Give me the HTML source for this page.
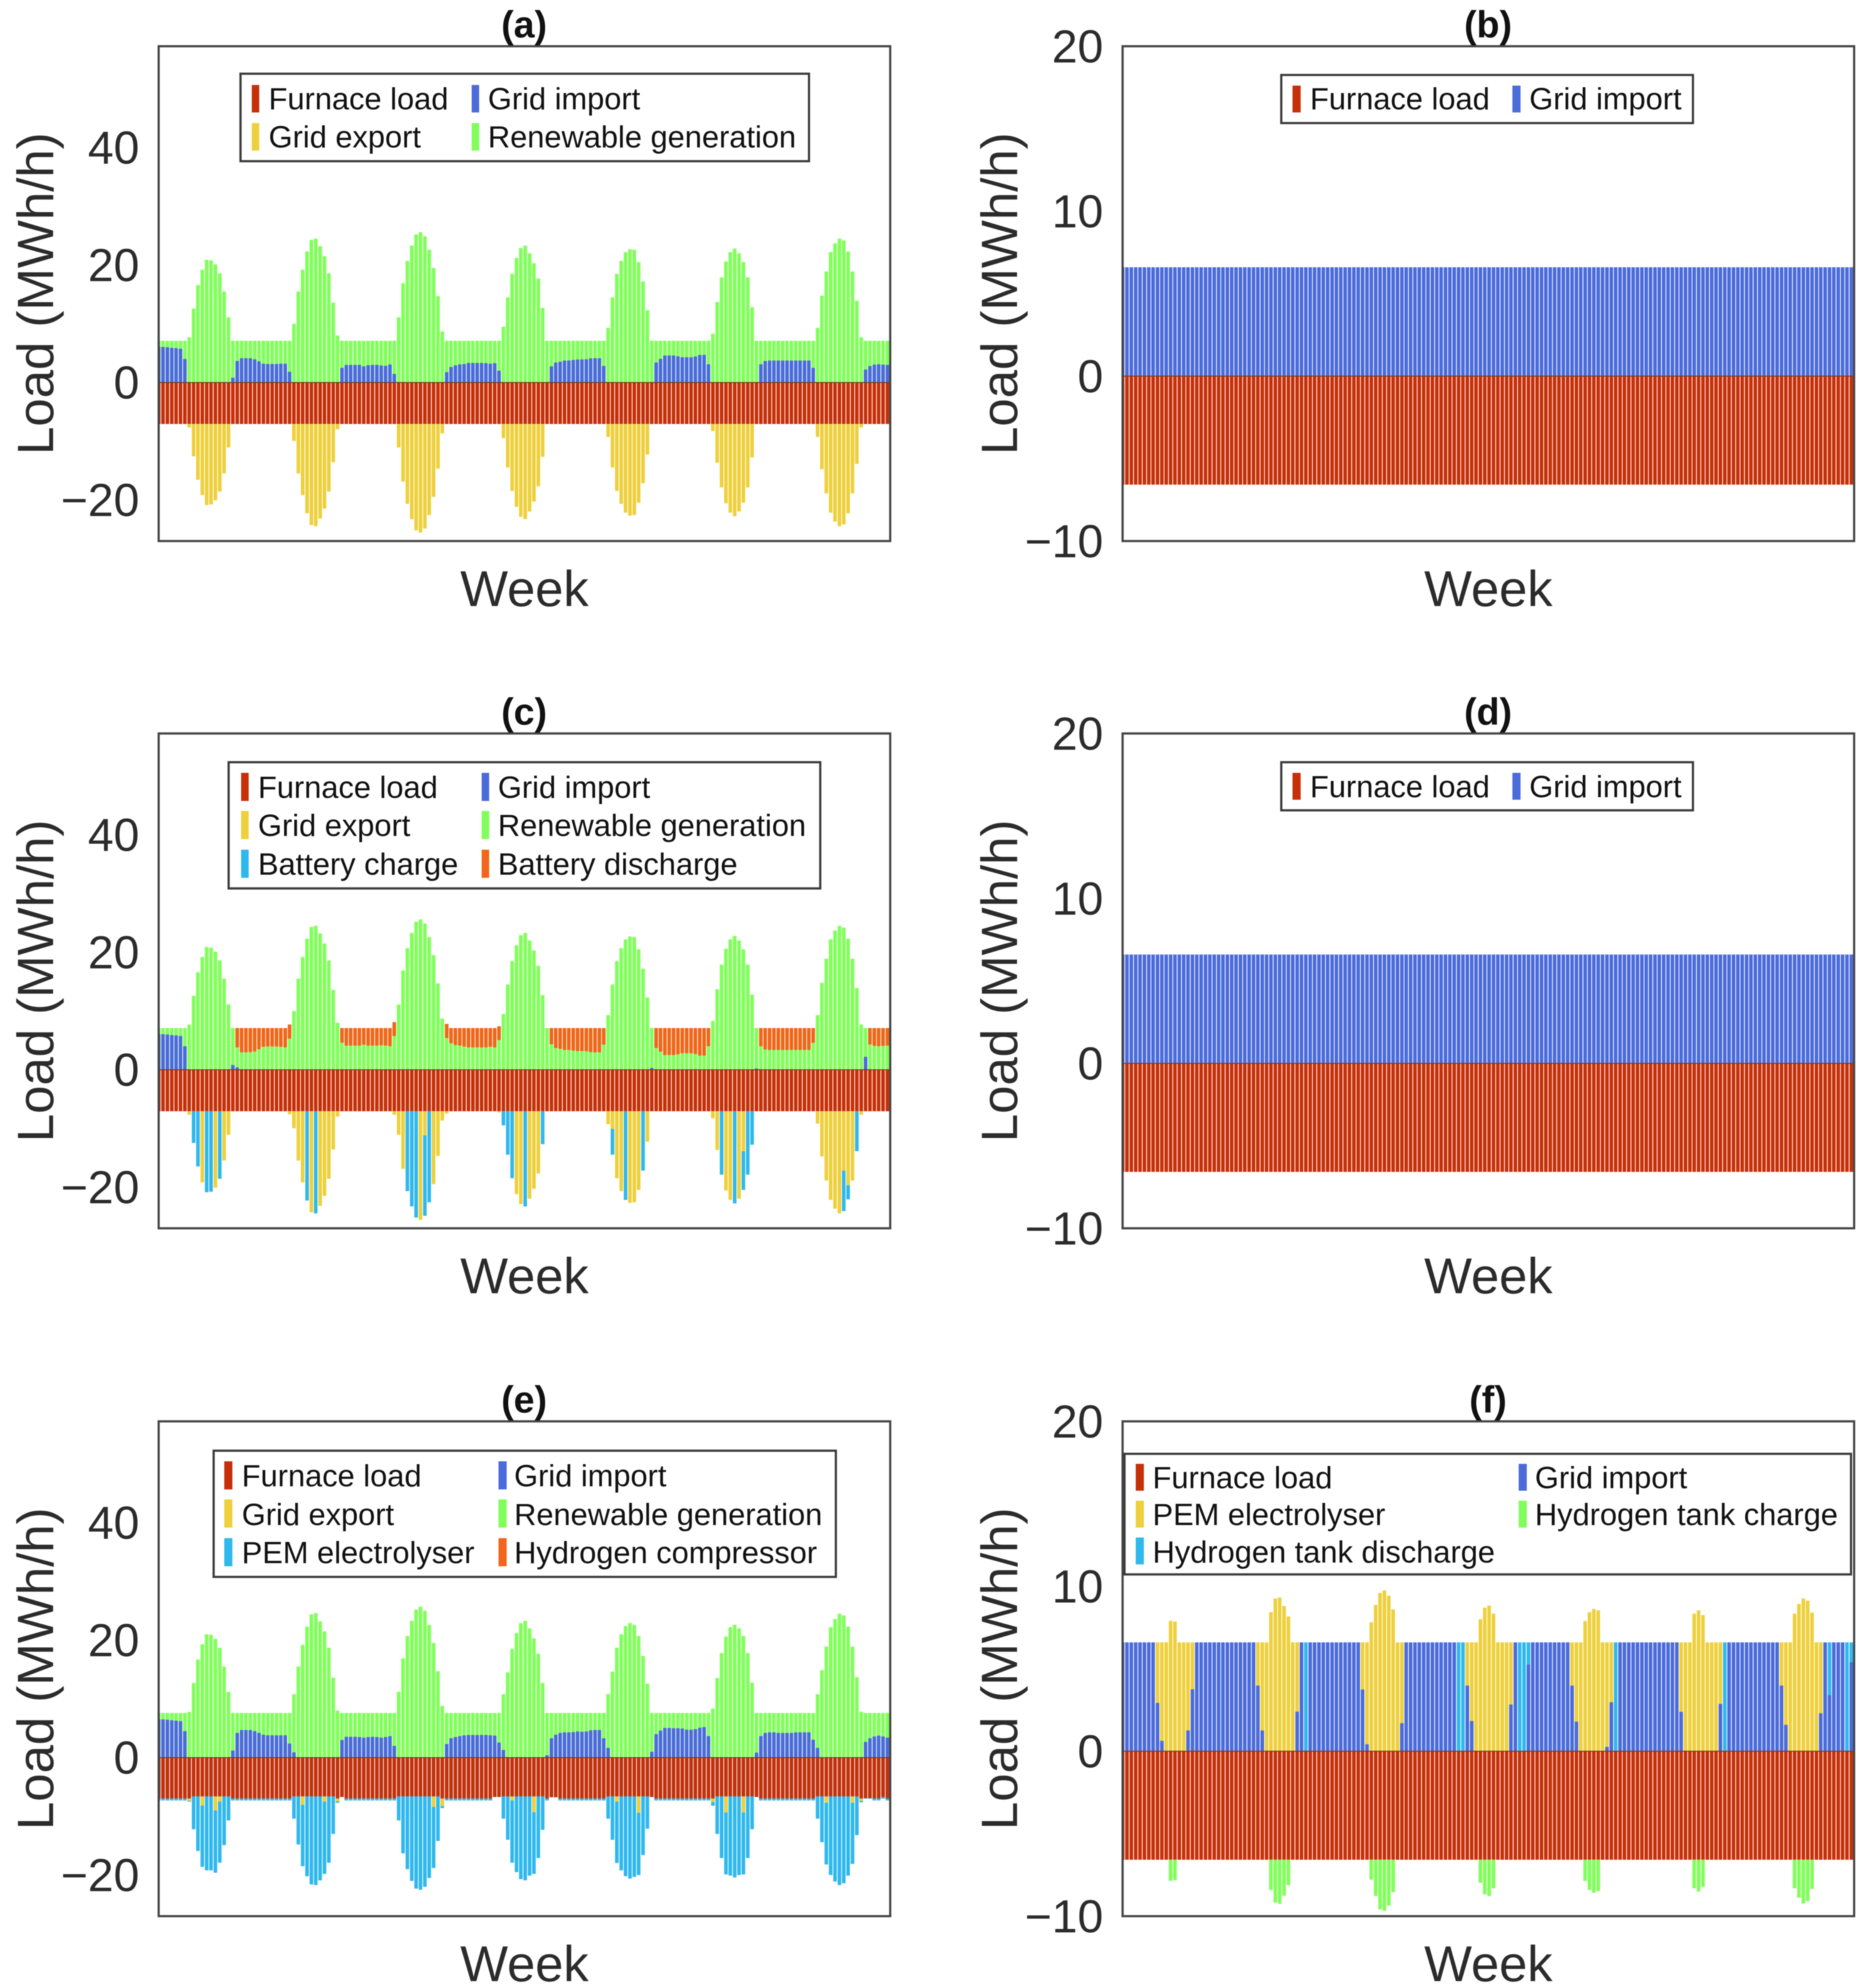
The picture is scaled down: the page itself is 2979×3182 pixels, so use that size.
<!DOCTYPE html>
<html lang="en">
<head>
<meta charset="utf-8">
<title>Weekly load balance, panels a to f</title>
<style>
html,body{margin:0;padding:0;background:#fff;width:2979px;height:3182px;overflow:hidden}
svg{display:block;filter:blur(0.7px)}
text{font-family:"Liberation Sans",Arial,sans-serif}
.leg{font-size:49.3px;fill:#111}
.frame{fill:none;stroke:#454545;stroke-width:3.5}
.box{fill:#fff;stroke:#3a3a3a;stroke-width:3.5}
.ttl{font-size:60px;font-weight:bold;fill:#111;text-anchor:middle}
</style>
</head>
<body>
<svg id="chart" xmlns="http://www.w3.org/2000/svg" width="2979" height="3182" viewBox="0 0 2979 3182">
<rect width="2979" height="3182" fill="#fff"/>
<defs>
<clipPath id="c0"><rect x="254" y="74" width="1171" height="792"/></clipPath>
<clipPath id="c1"><rect x="1797" y="74" width="1171" height="792"/></clipPath>
<clipPath id="c2"><rect x="254" y="1174" width="1171" height="792"/></clipPath>
<clipPath id="c3"><rect x="1797" y="1174" width="1171" height="792"/></clipPath>
<clipPath id="c4"><rect x="254" y="2275" width="1171" height="792"/></clipPath>
<clipPath id="c5"><rect x="1797" y="2275" width="1171" height="792"/></clipPath>
</defs>

<g id="panel-a"><g id="bars-a" clip-path="url(#c0)"></g>
<rect class="frame" x="254" y="74" width="1171" height="792"/>
<text class="ttl" x="839" y="60">(a)</text>
<rect class="box" x="385" y="118" width="910" height="140"/>
<g><rect x="403" y="136" width="12" height="44" fill="#C63009"/><text class="leg" x="430" y="175">Furnace load</text></g>
<g><rect x="755" y="136" width="12" height="44" fill="#4B6BDB"/><text class="leg" x="781" y="175">Grid import</text></g>
<g><rect x="403" y="197" width="12" height="44" fill="#EED03C"/><text class="leg" x="430" y="236">Grid export</text></g>
<g><rect x="755" y="197" width="12" height="44" fill="#80FF5A"/><text class="leg" x="781" y="236">Renewable generation</text></g>
</g>

<g id="panel-b"><g id="bars-b" clip-path="url(#c1)"></g>
<rect class="frame" x="1797" y="74" width="1171" height="792"/>
<text class="ttl" x="2382" y="60">(b)</text>
<rect class="box" x="2051" y="120" width="659" height="77"/>
<g><rect x="2069" y="137" width="13" height="43" fill="#C63009"/><text class="leg" x="2097" y="175">Furnace load</text></g>
<g><rect x="2421" y="137" width="13" height="43" fill="#4B6BDB"/><text class="leg" x="2448" y="175">Grid import</text></g>
</g>

<g id="panel-c"><g id="bars-c" clip-path="url(#c2)"></g>
<rect class="frame" x="254" y="1174" width="1171" height="792"/>
<text class="ttl" x="839" y="1160">(c)</text>
<rect class="box" x="366" y="1220" width="947" height="202"/>
<g><rect x="386" y="1237" width="12" height="45" fill="#C63009"/><text class="leg" x="413" y="1277">Furnace load</text></g>
<g><rect x="771" y="1237" width="12" height="45" fill="#4B6BDB"/><text class="leg" x="797" y="1277">Grid import</text></g>
<g><rect x="386" y="1298" width="12" height="45" fill="#EED03C"/><text class="leg" x="413" y="1338">Grid export</text></g>
<g><rect x="771" y="1298" width="12" height="45" fill="#80FF5A"/><text class="leg" x="797" y="1338">Renewable generation</text></g>
<g><rect x="386" y="1360" width="12" height="45" fill="#2FB8EE"/><text class="leg" x="413" y="1400">Battery charge</text></g>
<g><rect x="771" y="1360" width="12" height="45" fill="#F2651A"/><text class="leg" x="797" y="1400">Battery discharge</text></g>
</g>

<g id="panel-d"><g id="bars-d" clip-path="url(#c3)"></g>
<rect class="frame" x="1797" y="1174" width="1171" height="792"/>
<text class="ttl" x="2382" y="1160">(d)</text>
<rect class="box" x="2051" y="1220" width="659" height="77"/>
<g><rect x="2069" y="1237" width="13" height="43" fill="#C63009"/><text class="leg" x="2097" y="1276">Furnace load</text></g>
<g><rect x="2421" y="1237" width="13" height="43" fill="#4B6BDB"/><text class="leg" x="2448" y="1276">Grid import</text></g>
</g>

<g id="panel-e"><g id="bars-e" clip-path="url(#c4)"></g>
<rect class="frame" x="254" y="2275" width="1171" height="792"/>
<text class="ttl" x="839" y="2261">(e)</text>
<rect class="box" x="342" y="2322" width="996" height="202"/>
<g><rect x="359" y="2339" width="13" height="45" fill="#C63009"/><text class="leg" x="387" y="2379">Furnace load</text></g>
<g><rect x="798" y="2339" width="13" height="45" fill="#4B6BDB"/><text class="leg" x="823" y="2379">Grid import</text></g>
<g><rect x="359" y="2400" width="13" height="45" fill="#EED03C"/><text class="leg" x="387" y="2441">Grid export</text></g>
<g><rect x="798" y="2400" width="13" height="45" fill="#80FF5A"/><text class="leg" x="823" y="2441">Renewable generation</text></g>
<g><rect x="359" y="2462" width="13" height="45" fill="#2FB8EE"/><text class="leg" x="387" y="2502">PEM electrolyser</text></g>
<g><rect x="798" y="2462" width="13" height="45" fill="#F2651A"/><text class="leg" x="823" y="2502">Hydrogen compressor</text></g>
</g>

<g id="panel-f"><g id="bars-f" clip-path="url(#c5)"></g>
<rect class="frame" x="1797" y="2275" width="1171" height="792"/>
<text class="ttl" x="2382" y="2261">(f)</text>
<rect class="box" x="1800" y="2327" width="1163" height="193"/>
<g><rect x="1818" y="2343" width="13" height="43" fill="#C63009"/><text class="leg" x="1845" y="2382">Furnace load</text></g>
<g><rect x="2431" y="2343" width="13" height="43" fill="#4B6BDB"/><text class="leg" x="2457" y="2382">Grid import</text></g>
<g><rect x="1818" y="2402" width="13" height="43" fill="#EED03C"/><text class="leg" x="1845" y="2441">PEM electrolyser</text></g>
<g><rect x="2431" y="2402" width="13" height="43" fill="#80FF5A"/><text class="leg" x="2457" y="2441">Hydrogen tank charge</text></g>
<g><rect x="1818" y="2461" width="13" height="43" fill="#2FB8EE"/><text class="leg" x="1845" y="2501">Hydrogen tank discharge</text></g>
</g>
</svg>

<script>
// ---------- shared tick labels ----------
const leftTicks = [40, 20, 0, -20];
const rightTicks = [20, 10, 0, -10];

// ---------- constant furnace load and flat import ----------
const furnaceLeft = [
7.07,7.07,7.07,7.07,7.07,7.07,7.07,7.07,7.07,7.07,7.07,7.07,7.07,7.07,7.07,7.07,7.07,7.07,7.07,7.07,7.07,7.07,7.07,7.07,
7.07,7.07,7.07,7.07,7.07,7.07,7.07,7.07,7.07,7.07,7.07,7.07,7.07,7.07,7.07,7.07,7.07,7.07,7.07,7.07,7.07,7.07,7.07,7.07,
7.07,7.07,7.07,7.07,7.07,7.07,7.07,7.07,7.07,7.07,7.07,7.07,7.07,7.07,7.07,7.07,7.07,7.07,7.07,7.07,7.07,7.07,7.07,7.07,
7.07,7.07,7.07,7.07,7.07,7.07,7.07,7.07,7.07,7.07,7.07,7.07,7.07,7.07,7.07,7.07,7.07,7.07,7.07,7.07,7.07,7.07,7.07,7.07,
7.07,7.07,7.07,7.07,7.07,7.07,7.07,7.07,7.07,7.07,7.07,7.07,7.07,7.07,7.07,7.07,7.07,7.07,7.07,7.07,7.07,7.07,7.07,7.07,
7.07,7.07,7.07,7.07,7.07,7.07,7.07,7.07,7.07,7.07,7.07,7.07,7.07,7.07,7.07,7.07,7.07,7.07,7.07,7.07,7.07,7.07,7.07,7.07,
7.07,7.07,7.07,7.07,7.07,7.07,7.07,7.07,7.07,7.07,7.07,7.07,7.07,7.07,7.07,7.07,7.07,7.07,7.07,7.07,7.07,7.07,7.07,7.07];
const furnaceRight = [
6.58,6.58,6.58,6.58,6.58,6.58,6.58,6.58,6.58,6.58,6.58,6.58,6.58,6.58,6.58,6.58,6.58,6.58,6.58,6.58,6.58,6.58,6.58,6.58,
6.58,6.58,6.58,6.58,6.58,6.58,6.58,6.58,6.58,6.58,6.58,6.58,6.58,6.58,6.58,6.58,6.58,6.58,6.58,6.58,6.58,6.58,6.58,6.58,
6.58,6.58,6.58,6.58,6.58,6.58,6.58,6.58,6.58,6.58,6.58,6.58,6.58,6.58,6.58,6.58,6.58,6.58,6.58,6.58,6.58,6.58,6.58,6.58,
6.58,6.58,6.58,6.58,6.58,6.58,6.58,6.58,6.58,6.58,6.58,6.58,6.58,6.58,6.58,6.58,6.58,6.58,6.58,6.58,6.58,6.58,6.58,6.58,
6.58,6.58,6.58,6.58,6.58,6.58,6.58,6.58,6.58,6.58,6.58,6.58,6.58,6.58,6.58,6.58,6.58,6.58,6.58,6.58,6.58,6.58,6.58,6.58,
6.58,6.58,6.58,6.58,6.58,6.58,6.58,6.58,6.58,6.58,6.58,6.58,6.58,6.58,6.58,6.58,6.58,6.58,6.58,6.58,6.58,6.58,6.58,6.58,
6.58,6.58,6.58,6.58,6.58,6.58,6.58,6.58,6.58,6.58,6.58,6.58,6.58,6.58,6.58,6.58,6.58,6.58,6.58,6.58,6.58,6.58,6.58,6.58];
const importFlat = [
6.6,6.6,6.6,6.6,6.6,6.6,6.6,6.6,6.6,6.6,6.6,6.6,6.6,6.6,6.6,6.6,6.6,6.6,6.6,6.6,6.6,6.6,6.6,6.6,
6.6,6.6,6.6,6.6,6.6,6.6,6.6,6.6,6.6,6.6,6.6,6.6,6.6,6.6,6.6,6.6,6.6,6.6,6.6,6.6,6.6,6.6,6.6,6.6,
6.6,6.6,6.6,6.6,6.6,6.6,6.6,6.6,6.6,6.6,6.6,6.6,6.6,6.6,6.6,6.6,6.6,6.6,6.6,6.6,6.6,6.6,6.6,6.6,
6.6,6.6,6.6,6.6,6.6,6.6,6.6,6.6,6.6,6.6,6.6,6.6,6.6,6.6,6.6,6.6,6.6,6.6,6.6,6.6,6.6,6.6,6.6,6.6,
6.6,6.6,6.6,6.6,6.6,6.6,6.6,6.6,6.6,6.6,6.6,6.6,6.6,6.6,6.6,6.6,6.6,6.6,6.6,6.6,6.6,6.6,6.6,6.6,
6.6,6.6,6.6,6.6,6.6,6.6,6.6,6.6,6.6,6.6,6.6,6.6,6.6,6.6,6.6,6.6,6.6,6.6,6.6,6.6,6.6,6.6,6.6,6.6,
6.6,6.6,6.6,6.6,6.6,6.6,6.6,6.6,6.6,6.6,6.6,6.6,6.6,6.6,6.6,6.6,6.6,6.6,6.6,6.6,6.6,6.6,6.6,6.6];

// ---------- panel (a) ----------
const aRenewableTop = [
7.1,7.1,7.1,7.1,7.1,7.1,7.1,
7.7,12.6,16.6,19.2,20.9,20.8,20.1,18.6,15.5,11.1,
7.1,7.1,7.1,7.1,7.1,7.1,7.1,7.1,7.1,7.1,7.1,7.1,7.1,7.1,
10,15.5,19.2,22.3,24.3,24.5,23.2,21.5,18.6,13.6,8,
7.1,7.1,7.1,7.1,7.1,7.1,7.1,7.1,7.1,7.1,7.1,7.1,7.1,
11.1,16.9,20.7,23.3,25.2,25.6,24.9,22.6,19.5,14.7,8.7,
7.1,7.1,7.1,7.1,7.1,7.1,7.1,7.1,7.1,7.1,7.1,7.1,7.1,
9.5,14.5,18.5,21.2,22.9,23.3,22,20.3,17.7,12.7,
7.1,7.1,7.1,7.1,7.1,7.1,7.1,7.1,7.1,7.1,7.1,7.1,7.1,7.1,
9.3,14.5,18.5,20.7,22.2,22.7,22.6,20.5,17.2,12.3,
7.1,7.1,7.1,7.1,7.1,7.1,7.1,7.1,7.1,7.1,7.1,7.1,7.1,7.1,
8.3,13.7,17.9,20.6,22.2,22.8,22,20.5,17.9,12.8,
7.1,7.1,7.1,7.1,7.1,7.1,7.1,7.1,7.1,7.1,7.1,7.1,7.1,7.1,
9.3,14.8,18.9,22.2,23.7,24.5,24.2,22.3,18.9,13.9,7.7,
7.1,7.1,7.1,7.1,7.1,7.1];
const aImport = [
6.05,6.05,6,5.9,5.85,5.75,4,
0,0,0,0,0,0,0,0,0,0,
0.8,3.66,4.14,4.14,4.14,3.95,3.6,3.2,3.15,3.15,3.15,3.2,3.2,1.83,
0,0,0,0,0,0,0,0,0,0,0,
2.5,3,3,3,3,2.75,2.95,3,3,2.9,2.85,3.07,1.46,
0,0,0,0,0,0,0,0,0,0,0,
1.76,2.64,2.93,3.08,3.15,3.33,3.33,3.33,3.33,3.3,3.2,3.3,2,
0,0,0,0,0,0,0,0,0,0,
0,2.75,3.4,3.55,3.74,3.74,3.85,3.92,3.92,3.95,4.1,4.14,4.14,2.82,
0,0,0,0,0,0,0,0,0,0,
0,3.4,4.03,4.6,4.6,4.6,4.47,4.3,4.3,4.3,4.43,4.7,4.7,3.1,
0,0,0,0,0,0,0,0,0,0,
0,3.1,3.66,3.74,3.74,3.74,3.74,3.74,3.74,3.74,3.74,3.74,3.74,2.5,
0,0,0,0,0,0,0,0,0,0,0,
2.2,2.8,3.04,3.1,3.04,3];
const aExport = [
0,0,0,0,0,0,0,
0.6,5.5,9.5,12.1,13.8,13.7,13,11.5,8.4,4,
0,0,0,0,0,0,0,0,0,0,0,0,0,0,
2.9,8.4,12.1,15.2,17.2,17.4,16.1,14.4,11.5,6.5,0.9,
0,0,0,0,0,0,0,0,0,0,0,0,0,
4,9.8,13.6,16.2,18.1,18.5,17.8,15.5,12.4,7.6,1.6,
0,0,0,0,0,0,0,0,0,0,0,0,0,
2.4,7.4,11.4,14.1,15.8,16.2,14.9,13.2,10.6,5.6,
0,0,0,0,0,0,0,0,0,0,0,0,0,0,
2.2,7.4,11.4,13.6,15.1,15.6,15.5,13.4,10.1,5.2,
0,0,0,0,0,0,0,0,0,0,0,0,0,0,
1.2,6.6,10.8,13.5,15.1,15.7,14.9,13.4,10.8,5.7,
0,0,0,0,0,0,0,0,0,0,0,0,0,0,
2.2,7.7,11.8,15.1,16.6,17.4,17.1,15.2,11.8,6.8,0.6,
0,0,0,0,0,0];

// ---------- panel (c) ----------
const cStackTop = [
7.1,7.1,7.1,7.1,7.1,7.1,7.1,
7.7,12.6,16.6,19.2,20.9,20.8,20.1,18.6,15.5,11.1,
7.1,7.1,7.1,7.1,7.1,7.1,7.1,7.1,7.1,7.1,7.1,7.1,7.1,7.7,
10,15.5,19.2,22.3,24.3,24.5,23.2,21.5,18.6,13.6,8,
7.1,7.1,7.1,7.1,7.1,7.1,7.1,7.1,7.1,7.1,7.1,7.1,8.1,
11.1,16.9,20.7,23.3,25.2,25.6,24.9,22.6,19.5,14.7,8.7,
7.8,7.1,7.1,7.1,7.1,7.1,7.1,7.1,7.1,7.1,7.1,7.1,7.4,
9.5,14.5,18.5,21.2,22.9,23.3,22,20.3,17.7,12.7,
7.1,7.1,7.1,7.1,7.1,7.1,7.1,7.1,7.1,7.1,7.1,7.1,7.1,7.1,
9.3,14.5,18.5,20.7,22.2,22.7,22.6,20.5,17.2,12.3,
7.1,7.1,7.1,7.1,7.1,7.1,7.1,7.1,7.1,7.1,7.1,7.1,7.1,7.1,
8.3,13.7,17.9,20.6,22.2,22.8,22,20.5,17.9,12.8,
7.1,7.1,7.1,7.1,7.1,7.1,7.1,7.1,7.1,7.1,7.1,7.1,7.1,7.1,
9.3,14.8,18.9,22.2,23.7,24.5,24.2,22.3,18.9,13.9,7.7,
7.1,7.1,7.1,7.1,7.1,7.1];
const cImport = [
6.05,6.05,6,5.9,5.85,5.75,4,
0,0,0,0,0,0,0,0,0,0,
0.8,0.4,0,0,0,0,0,0,0,0,0,0,0,0,
0,0,0,0,0,0,0,0,0,0,0,
0,0,0,0,0,0,0,0,0,0,0,0,0,
0,0,0,0,0,0,0,0,0,0,0,
0,0,0,0,0,0,0,0,0,0,0,0,0,
0,0,0,0,0,0,0,0,0,0,
0,0,0,0,0,0,0,0,0,0,0,0,0,0,
0,0,0,0,0,0,0,0,0,0,
0.3,0,0,0,0,0,0,0,0,0,0,0,0,0,
0,0,0,0,0,0,0,0,0,0,
0.2,0,0,0,0,0,0,0,0,0,0,0,0,0,
0,0,0,0,0,0,0,0,0,0,0,
2.2,0,0,0,0,0];
const cDischarge = [
0,0,0,0,0,0,0,
0,0,0,0,0,0,0,0,0,0,
0,3.3,4.14,4.14,4.1,4,3.6,3.2,3.15,3.15,3.15,3.2,3.3,2.4,
0,0,0,0,0,0,0,0,0,0,0,
2.5,3,3,3,3,2.85,3,3,3,2.95,3,3.1,2.35,
0,0,0,0,0,0,0,0,0,0,0,
2.4,2.6,2.9,3,3.15,3.3,3.3,3.3,3.3,3.3,3.2,3.3,2.35,
0,0,0,0,0,0,0,0,0,0,
0,2.75,3.4,3.55,3.74,3.74,3.85,3.92,3.92,3.95,4.1,4.14,4.14,2.82,
0,0,0,0,0,0,0,0,0,0,
0,3.4,4.03,4.6,4.6,4.6,4.47,4.3,4.3,4.3,4.43,4.7,4.7,3.1,
0,0,0,0,0,0,0,0,0,0,
0,3.1,3.66,3.74,3.74,3.74,3.74,3.74,3.74,3.74,3.74,3.74,3.74,2.5,
0,0,0,0,0,0,0,0,0,0,0,
0,2.8,3.04,3.1,3.04,3];
const cExport = [
0,0,0,0,0,0,0,
0.6,0,0,12.1,0,0,13,0,8.4,4,
0,0,0,0,0,0,0,0,0,0,0,0,0,0.5,
2.9,8.4,12.1,0,17.2,0,16.1,14.4,11.5,6.5,0.9,
0,0,0,0,0,0,0,0,0,0,0,0,0.6,
4,9.8,0,0,0,18.5,4.1,0,12.4,7.6,1.6,
0.4,0,0,0,0,0,0,0,0,0,0,0,0.2,
0,0,0,14.1,15.8,0,14.9,13.2,10.6,0,
0,0,0,0,0,0,0,0,0,0,0,0,0,0,
2.2,3,11.4,13.6,0,15.6,15.5,13.4,0,5.2,
0,0,0,0,0,0,0,0,0,0,0,0,0,0,
1.2,6.6,0,13.5,15.1,0,14.9,6.8,0,0,
0,0,0,0,0,0,0,0,0,0,0,0,0,0,
2.1,7.7,11.8,15.1,16.6,17.4,10.1,12.6,11.8,0,0.6,
0,0,0,0,0,0];
const cCharge = [
0,0,0,0,0,0,0,
0,5.4,9.4,0,13.8,13.7,0,11.5,0,0,
0,0,0,0,0,0,0,0,0,0,0,0,0,0,
0,0,0,15.2,0,17.4,0,0,0,0,0,
0,0,0,0,0,0,0,0,0,0,0,0,0,
0,0,13.6,16.2,18.1,0,13.7,15.5,0,0,0,
0,0,0,0,0,0,0,0,0,0,0,0,0,
2.4,7.4,11.4,0,0,16.2,0,0,0,5.6,
0,0,0,0,0,0,0,0,0,0,0,0,0,0,
0,4.4,0,0,15.1,0,0,0,10.1,0,
0,0,0,0,0,0,0,0,0,0,0,0,0,0,
0,0,10.8,0,0,15.7,0,6.6,10.8,5.7,
0,0,0,0,0,0,0,0,0,0,0,0,0,0,
0,0,0,0,0,0,6.9,2.4,0,6.8,0,
0,0,0,0,0,0];

// ---------- panel (e) ----------
const eRenewableTop = [
7.6,7.6,7.6,7.6,7.6,7.6,7.6,
7.8,12.7,16.7,19.3,21,20.9,20.2,18.7,15.5,11.2,
7.6,7.6,7.6,7.6,7.6,7.6,7.6,7.6,7.6,7.6,7.6,7.6,7.6,7.6,
10.8,15.5,19.2,22.3,24.4,24.6,23.2,21.5,18.7,13.6,8,
7.6,7.6,7.6,7.6,7.6,7.6,7.6,7.6,7.6,7.6,7.6,7.6,7.6,
11.2,16.9,20.7,23.3,25.2,25.7,25,22.6,19.5,14.7,8.8,
7.6,7.6,7.6,7.6,7.6,7.6,7.6,7.6,7.6,7.6,7.6,7.6,7.6,
10.8,14.5,18.5,21.2,22.9,23.3,22,20.3,17.7,12.7,
7.6,7.6,7.6,7.6,7.6,7.6,7.6,7.6,7.6,7.6,7.6,7.6,7.6,7.6,
10.8,14.65,18.7,21,22.4,22.9,22.6,20.7,17.3,12.6,
7.6,7.6,7.6,7.6,7.6,7.6,7.6,7.6,7.6,7.6,7.6,7.6,7.6,7.6,
8.35,13.55,17.8,20.6,22.2,22.6,22,20.7,17.8,12.75,
7.6,7.6,7.6,7.6,7.6,7.6,7.6,7.6,7.6,7.6,7.6,7.6,7.6,7.6,
10.8,14.9,18.9,22.2,23.6,24.5,24.2,22.3,18.9,13.7,7.8,
7.6,7.6,7.6,7.6,7.6,7.6];
const eImport = [
6.5,6.5,6.45,6.35,6.3,6.2,4.5,
0,0,0,0,0,0,0,0,0,0,
1.2,4.2,4.7,4.7,4.7,4.5,4.2,3.9,3.8,3.8,3.8,3.8,3.8,2.4,
0.9,0,0,0,0,0,0,0,0,0,0,
3,3.55,3.55,3.55,3.5,3.4,3.5,3.55,3.5,3.4,3.5,3.65,2,
0,0,0,0,0,0,0,0,0,0,0,
2.3,3.3,3.5,3.65,3.8,3.85,3.85,3.85,3.85,3.85,3.8,3.75,2.56,
1.3,0,0,0,0,0,0,0,0,0,
0.4,3.3,3.9,4.2,4.3,4.3,4.35,4.45,4.4,4.45,4.65,4.7,4.7,3.3,
1.65,0,0,0,0,0,0,0,0,0,
1,4,4.6,5.05,5.05,5,5,4.95,4.75,4.75,4.85,5.1,5.2,3.66,
0,0,0,0,0,0,0,0,0,0,
0.85,3.66,4.2,4.3,4.3,4.2,4.2,4.2,4.2,4.3,4.3,4.3,4.3,3.04,
1.65,0,0,0,0,0,0,0,0,0,0,
2.67,3.3,3.6,3.75,3.6,3.4];
const eFurnace = [
6.96,6.96,6.96,6.96,6.96,6.96,6.96,
6.96,6.6,6.6,6.6,6.6,6.6,6.6,6.6,6.6,6.6,
6.96,6.96,6.96,6.96,6.96,6.96,6.96,6.96,6.96,6.96,6.96,6.96,6.96,6.96,
6.6,6.6,6.6,6.6,6.6,6.6,6.6,6.6,6.6,6.6,6.96,
6.7,6.96,6.96,6.96,6.96,6.96,6.96,6.96,6.96,6.96,6.96,6.96,6.96,
6.6,6.6,6.6,6.6,6.6,6.6,6.6,6.6,6.6,6.6,6.96,
6.96,6.96,6.96,6.96,6.96,6.96,6.96,6.96,6.96,6.96,6.96,6.7,6.7,
6.6,6.6,6.6,6.6,6.6,6.6,6.6,6.6,6.6,6.6,
6.96,6.75,6.75,6.96,6.96,6.96,6.96,6.96,6.96,6.96,6.96,6.96,6.96,6.96,
6.6,6.6,6.6,6.6,6.6,6.6,6.6,6.6,6.6,6.6,
6.7,6.96,6.96,6.96,6.96,6.96,6.96,6.96,6.96,6.96,6.96,6.96,6.96,6.96,
6.96,6.6,6.6,6.6,6.6,6.6,6.6,6.6,6.6,6.6,
6.7,6.96,6.96,6.96,6.96,6.96,6.96,6.96,6.96,6.96,6.96,6.96,6.96,6.96,
6.6,6.6,6.6,6.6,6.6,6.6,6.6,6.6,6.6,6.6,6.96,
6.9,6.9,6.96,6.96,6.7,6.96];
const eElectrolyserBottom = [
7.3,7.3,7.3,7.3,7.3,7.3,7.3,
7.5,12.2,15.9,18.6,19.2,19.2,19.6,17.9,14.9,10.7,
7.3,7.3,7.3,7.3,7.3,7.3,7.3,7.3,7.3,7.3,7.3,7.3,7.3,7.3,
10.4,14.8,18.5,20.2,21.6,21.7,20.9,19.8,17.9,13,7.7,
6.7,7.3,7.3,7.3,7.3,7.3,7.3,7.3,7.3,7.3,7.3,7.3,7.3,
10.7,16.3,19,21,22.3,22.5,22,20.5,18.8,14.2,8.6,
7.3,7.3,7.3,7.3,7.3,7.3,7.3,7.3,7.3,7.3,7.3,6.7,6.7,
10.4,14,17.9,19.5,20.7,20.9,20.1,19.8,17.1,12.3,
7.3,6.75,6.75,7.3,7.3,7.3,7.3,7.3,7.3,7.3,7.3,7.3,7.3,7.3,
10.4,14,17.95,19.2,20.2,20.6,20.3,20,16.6,12.1,
6.7,7.3,7.3,7.3,7.3,7.3,7.3,7.3,7.3,7.3,7.3,7.3,7.3,7.3,
8.2,13,17.1,19.9,20.1,20.4,20,19.9,17.1,12.2,
6.7,7.3,7.3,7.3,7.3,7.3,7.3,7.3,7.3,7.3,7.3,7.3,7.3,7.3,
10.4,14.4,18.2,20,21.1,21.7,21.4,20.1,18.1,13.2,7.6,
7,7,7.3,7.3,7,7.3];
const eExport = [
0,0,0,0,0,0,0,
0.4,0,0,1.57,0,0,2.4,0.9,0,0,
0,0,0,0,0,0,0,0,0,0,0,0,0,0,
0,0,1.46,0,0,0,0,0.9,0,0,0.5,
0,0,0,0,0,0,0,0,0,0,0,0,0,
0,0,0,0,0,0,0,0,1.8,0,1.3,
0,0,0,0,0,0,0,0,0,0,0,0,0,
0,0,0.7,0,0,0,0,2.7,0,0,
0,0,0,0,0,0,0,0,0,0,0,0,0,0,
0,0,0.9,0,0,0,0,2.8,0,0,
0,0,0,0,0,0,0,0,0,0,0,0,0,0,
0.6,0,0,2.75,0,0,0,2.75,0,0,
0,0,0,0,0,0,0,0,0,0,0,0,0,0,
0,0,1.1,0,0,0,0,0,1.1,0,0.4,
0,0,0,0,0,0];

// ---------- panel (f) ----------
const fImport = [
6.6,6.6,6.6,6.6,6.6,6.6,6.6,6.6,
2.93,0.63,0,0,0,0,0,1.26,3.75,
6.6,6.6,6.6,6.6,6.6,6.6,6.6,6.6,6.6,6.6,6.6,6.6,6.6,6.6,
3.98,1.26,0,0,0,0,0,0,0,2.4,
6.6,0,6.6,6.6,6.6,6.6,6.6,6.6,6.6,6.6,6.6,6.6,6.6,6.6,
3.74,0.42,0,0,0,0,0,0,0,1.7,
6.6,6.6,6.6,6.6,6.6,6.6,6.6,6.6,6.6,6.6,6.6,6.6,0,0,
3.98,1.83,0,0,0,0,0,0,0,0,2.83,
6.6,0,0,5.25,6.6,6.6,6.6,6.6,6.6,6.6,6.6,6.6,6.6,
3.98,1.79,0,0,0,0,0,0,0.26,2.97,
0,6.6,6.6,6.6,6.6,6.6,6.6,6.6,6.6,6.6,6.6,6.6,6.6,6.6,6.6,
2.39,0,0,0,0,0,0,0,0,2.87,
0,6.6,6.6,6.6,6.6,6.6,6.6,6.6,6.6,6.6,6.6,6.6,6.6,
3.98,1.6,0,0,0,0,0,0,0,2.3,
6.6,3.4,6.6,6.6,6.6,0,5.4];
const fElectrolyserTop = [
0,0,0,0,0,0,0,0,
6.6,6.6,6.6,7.9,7.86,6.6,6.6,6.6,6.6,
0,0,0,0,0,0,0,0,0,0,0,0,0,0,
6.6,6.6,6.6,8.43,9.26,9.32,8.8,8.17,6.6,6.6,
0,0,0,0,0,0,0,0,0,0,0,0,0,0,
6.6,6.6,7.82,8.87,9.6,9.75,9.43,8.6,6.6,6.6,
0,0,0,0,0,0,0,0,0,0,0,0,0,0,
6.6,6.6,6.6,8,8.7,8.83,8.34,6.6,6.6,6.6,6.6,
0,0,0,0,0,0,0,0,0,0,0,0,0,
6.6,6.6,6.6,7.89,8.43,8.63,8.54,6.6,6.6,6.6,
0,0,0,0,0,0,0,0,0,0,0,0,0,0,0,
6.6,6.6,6.6,8.34,8.54,8.25,6.6,6.6,6.6,6.6,
0,0,0,0,0,0,0,0,0,0,0,0,0,
6.6,6.6,6.6,8.34,8.93,9.26,9.13,8.4,6.6,6.6,
0,0,0,0,0,0,0];
const fDischargeTop = [
0,0,0,0,0,0,0,0,0,0,0,0,0,0,0,0,0,0,0,0,0,0,0,0,0,0,0,0,0,0,0,0,0,0,0,0,0,0,0,0,0,0,
6.6,
0,0,0,0,0,0,0,0,0,0,0,0,0,0,0,0,0,0,0,0,0,0,0,0,0,0,0,0,0,0,0,0,0,0,
6.6,6.6,
0,0,0,0,0,0,0,0,0,0,0,0,
6.6,6.6,6.6,
0,0,0,0,0,0,0,0,0,0,0,0,0,0,0,0,0,0,0,
6.6,
0,0,0,0,0,0,0,0,0,0,0,0,0,0,0,0,0,0,0,0,0,0,0,0,
6.6,
0,0,0,0,0,0,0,0,0,0,0,0,0,0,0,0,0,0,0,0,0,0,0,
6.6,
0,0,0,
6.6,6.6];
const fCharge = [
0,0,0,0,0,0,0,0,0,0,0,
1.28,1.24,
0,0,0,0,0,0,0,0,0,0,0,0,0,0,0,0,0,0,0,0,0,
1.83,2.6,2.67,2.18,1.54,
0,0,0,0,0,0,0,0,0,0,0,0,0,0,0,0,0,0,
1.2,2.2,3,3.1,2.78,1.96,
0,0,0,0,0,0,0,0,0,0,0,0,0,0,0,0,0,0,0,
1.4,2.1,2.2,1.73,
0,0,0,0,0,0,0,0,0,0,0,0,0,0,0,0,0,0,0,0,
1.28,1.83,2,1.9,
0,0,0,0,0,0,0,0,0,0,0,0,0,0,0,0,0,0,0,0,0,
1.73,1.93,1.64,
0,0,0,0,0,0,0,0,0,0,0,0,0,0,0,0,0,0,0,0,
1.73,2.3,2.65,2.5,1.77,
0,0,0,0,0,0,0,0,0];

// ---------- drawing ----------
const SVGNS = 'http://www.w3.org/2000/svg';
const RED = '#C63009', BLUE = '#4B6BDB', YELLOW = '#EED03C', GREEN = '#80FF5A', CYAN = '#2FB8EE', ORANGE = '#F2651A';
const BAR_COUNT = 168;
const PLOT_W = 1171, PLOT_H = 792;
const BAR_STEP = 6.985;

function makeAxes(id, left, top, yMin, yMax, ticks) {
  const group = document.getElementById('bars-' + id);
  const panel = document.getElementById('panel-' + id);
  const p = {
    group: group,
    panel: panel,
    left: left,
    top: top,
    x: function (k) { return left + k * BAR_STEP; },
    y: function (v) { return top + (yMax - v) / (yMax - yMin) * PLOT_H; }
  };
  p.barWidth = 0.82 * BAR_STEP;
  ticks.forEach(function (t) {
    const el = document.createElementNS(SVGNS, 'text');
    
    
    el.setAttribute('x', left - 31);
    el.setAttribute('y', p.y(t) + 26);
    el.setAttribute('text-anchor', 'end');
    el.setAttribute('font-size', '74');
    el.setAttribute('fill', '#2b2b2b');
    el.textContent = t < 0 ? '\u2212' + Math.abs(t) : String(t);
    panel.appendChild(el);
  });
  const yTitle = document.createElementNS(SVGNS, 'text');
  
  
  yTitle.setAttribute('transform', 'translate(' + (left - 169) + ',' + (top + 396) + ') rotate(-90)');
  yTitle.setAttribute('text-anchor', 'middle');
  yTitle.setAttribute('font-size', '81.5');
  yTitle.setAttribute('fill', '#2b2b2b');
  yTitle.textContent = 'Load (MWh/h)';
  panel.appendChild(yTitle);
  const xTitle = document.createElementNS(SVGNS, 'text');
  
  
  xTitle.setAttribute('x', left + PLOT_W / 2);
  xTitle.setAttribute('y', top + 896);
  xTitle.setAttribute('text-anchor', 'middle');
  xTitle.setAttribute('font-size', '81');
  xTitle.setAttribute('fill', '#2b2b2b');
  xTitle.textContent = 'Week';
  panel.appendChild(xTitle);
  return p;
}

function drawBand(p, name, color, lowFn, highFn) {
  for (let k = 0; k < BAR_COUNT; k++) {
    const a = lowFn(k), b = highFn(k);
    if (!(Math.abs(a - b) > 0)) continue;
    const yA = p.y(a), yB = p.y(b);
    const el = document.createElementNS(SVGNS, 'rect');
    
    
    el.setAttribute('x', (p.x(k) - p.barWidth / 2).toFixed(2));
    el.setAttribute('y', Math.min(yA, yB).toFixed(2));
    el.setAttribute('width', p.barWidth.toFixed(2));
    el.setAttribute('height', Math.abs(yA - yB).toFixed(2));
    el.setAttribute('fill', color);
    p.group.appendChild(el);
  }
}

function drawBaseline(p) {
  const el = document.createElementNS(SVGNS, 'line');
  
  
  el.setAttribute('x1', p.left);
  el.setAttribute('x2', p.left + PLOT_W);
  el.setAttribute('y1', p.y(0));
  el.setAttribute('y2', p.y(0));
  el.setAttribute('stroke', '#7a3a20');
  el.setAttribute('stroke-width', '1.5');
  p.group.appendChild(el);
}

const zero = function () { return 0; };

// (a)
const pa = makeAxes('a', 254, 74, -27, 57.26, leftTicks);
drawBand(pa, 'renewable-generation-bar', GREEN, zero, function (k) { return aRenewableTop[k]; });
drawBand(pa, 'grid-import-bar', BLUE, zero, function (k) { return aImport[k]; });
drawBand(pa, 'furnace-load-bar', RED, zero, function (k) { return -furnaceLeft[k]; });
drawBand(pa, 'grid-export-bar', YELLOW, function (k) { return -furnaceLeft[k]; }, function (k) { return -furnaceLeft[k] - aExport[k]; });
drawBaseline(pa);

// (b)
const pb = makeAxes('b', 1797, 74, -10, 20, rightTicks);
drawBand(pb, 'grid-import-bar', BLUE, zero, function (k) { return importFlat[k]; });
drawBand(pb, 'furnace-load-bar', RED, zero, function (k) { return -furnaceRight[k]; });
drawBaseline(pb);

// (c)
const pc = makeAxes('c', 254, 1174, -27, 57.26, leftTicks);
drawBand(pc, 'renewable-generation-bar', GREEN, zero, function (k) { return cStackTop[k]; });
drawBand(pc, 'battery-discharge-bar', ORANGE, function (k) { return cStackTop[k] - cDischarge[k]; }, function (k) { return cDischarge[k] > 0 ? cStackTop[k] : cStackTop[k] - cDischarge[k]; });
drawBand(pc, 'grid-import-bar', BLUE, zero, function (k) { return cImport[k]; });
drawBand(pc, 'furnace-load-bar', RED, zero, function (k) { return -furnaceLeft[k]; });
drawBand(pc, 'grid-export-bar', YELLOW, function (k) { return -furnaceLeft[k]; }, function (k) { return -furnaceLeft[k] - cExport[k]; });
drawBand(pc, 'battery-charge-bar', CYAN, function (k) { return -furnaceLeft[k] - cExport[k]; }, function (k) { return -furnaceLeft[k] - cExport[k] - cCharge[k]; });
drawBaseline(pc);

// (d)
const pd = makeAxes('d', 1797, 1174, -10, 20, rightTicks);
drawBand(pd, 'grid-import-bar', BLUE, zero, function (k) { return importFlat[k]; });
drawBand(pd, 'furnace-load-bar', RED, zero, function (k) { return -furnaceRight[k]; });
drawBaseline(pd);

// (e)
const pe = makeAxes('e', 254, 2275, -27, 57.26, leftTicks);
drawBand(pe, 'renewable-generation-bar', GREEN, zero, function (k) { return eRenewableTop[k]; });
drawBand(pe, 'grid-import-bar', BLUE, zero, function (k) { return eImport[k]; });
drawBand(pe, 'pem-electrolyser-bar', CYAN, zero, function (k) { return -eElectrolyserBottom[k]; });
drawBand(pe, 'grid-export-bar', YELLOW, function (k) { return -eFurnace[k]; }, function (k) { return -eFurnace[k] - eExport[k]; });
drawBand(pe, 'furnace-load-bar', RED, zero, function (k) { return -eFurnace[k]; });
drawBaseline(pe);

// (f)
const pf = makeAxes('f', 1797, 2275, -10, 20, rightTicks);
drawBand(pf, 'pem-electrolyser-bar', YELLOW, zero, function (k) { return fElectrolyserTop[k]; });
drawBand(pf, 'hydrogen-tank-discharge-bar', CYAN, zero, function (k) { return fDischargeTop[k]; });
drawBand(pf, 'grid-import-bar', BLUE, zero, function (k) { return fImport[k]; });
drawBand(pf, 'furnace-load-bar', RED, zero, function (k) { return -furnaceRight[k]; });
drawBand(pf, 'hydrogen-tank-charge-bar', GREEN, function (k) { return -furnaceRight[k]; }, function (k) { return -furnaceRight[k] - fCharge[k]; });
drawBaseline(pf);
</script>
</body>
</html>
